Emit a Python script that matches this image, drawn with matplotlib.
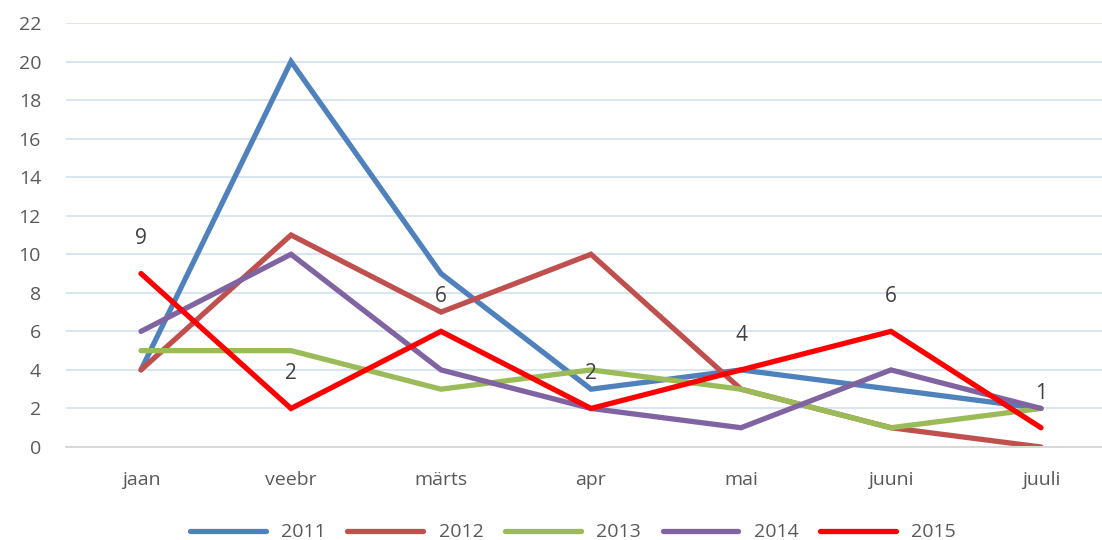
import numpy as np
import matplotlib.pyplot as plt

months = ['jaan', 'veebr', 'märts', 'apr', 'mai', 'juuni', 'juuli']
years = ['2011', '2012', '2013', '2014', '2015']
v2011 = [4, 20, 9, 3, 4, 3, 2]
v2012 = [4, 11, 7, 10, 3, 1, 0]
v2013 = [5, 5, 3, 4, 3, 1, 2]
v2014 = [6, 10, 4, 2, 1, 4, 2]
v2015 = [9, 2, 6, 2, 4, 6, 1]
colors = ['#4F81BD', '#C0504D', '#9BBB59', '#8064A2', '#FF0000']

plt.rcParams['font.family'] = ['Open Sans', 'DejaVu Sans']

fig = plt.figure(figsize=(11.02, 5.40), dpi=100)
ax = fig.add_axes([66 / 1102, 93 / 540, 1050 / 1102, 424 / 540])

x = np.arange(len(months))
for vals, lab, c in zip([v2011, v2012, v2013, v2014, v2015], years, colors):
    ax.plot(x, vals, color=c, lw=3.8, label=lab, solid_joinstyle='miter', solid_capstyle='round')

# data labels only on 2015
for xi, v in zip(x, v2015):
    ax.annotate(str(v), (xi, v), xytext=(0, 25), textcoords='offset points',
                ha='center', va='center', fontsize=15, color='#404040')

ax.set_xlim(-0.5, 6.5)
ax.set_ylim(0, 22)
ax.set_yticks(range(0, 23, 2))
ax.set_xticks(x)
ax.set_xticklabels(months)
ax.tick_params(axis='both', length=0, labelsize=14, labelcolor='#595959')
ax.tick_params(axis='x', pad=17)
ax.tick_params(axis='y', pad=18)
ax.grid(axis='y', color='#D3E0F0', lw=1.2)
ax.set_axisbelow(True)
for s in ['top', 'right', 'left']:
    ax.spines[s].set_visible(False)
ax.spines['bottom'].set_color('#D9D9D9')
ax.spines['bottom'].set_linewidth(1.5)

fig.legend(loc='lower center', bbox_to_anchor=(0.52, -0.035), ncol=5, frameon=False,
           fontsize=14, handlelength=3.9, columnspacing=1.1, labelcolor='#595959')

fig.savefig('out.png', dpi=100)
